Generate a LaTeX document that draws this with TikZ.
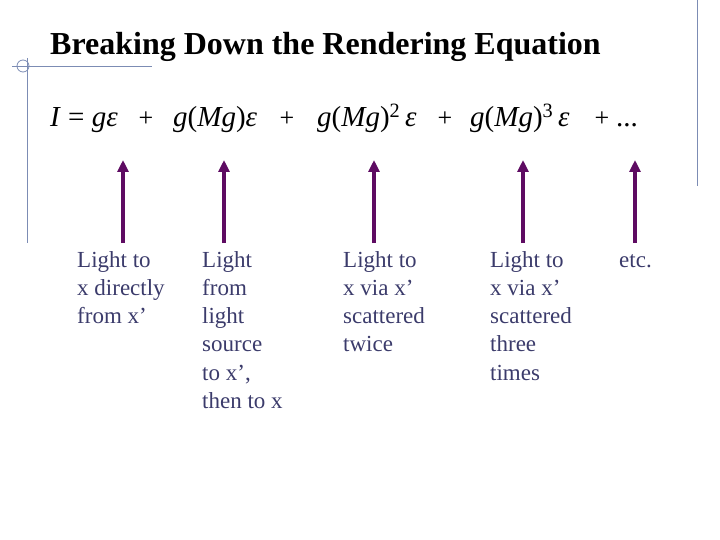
\documentclass[tikz,border=0pt]{standalone}
\usepackage{fontspec}
\setmainfont{Liberation Serif}
\usetikzlibrary{arrows.meta}
\definecolor{framecol}{HTML}{7C8CB4}
\definecolor{arrowcol}{HTML}{5E0B62}
\definecolor{labelcol}{HTML}{3B3B6B}
\newcommand{\lines}[1]{\begin{tabular}[t]{@{}l@{}}#1\end{tabular}}

\begin{document}
\begin{tikzpicture}[x=1pt,y=-1pt,
  term/.style={anchor=base west,inner sep=0pt,font=\fontsize{29}{34}\selectfont},
  plus/.style={anchor=base,inner sep=0pt,font=\fontsize{26}{34}\selectfont},
  lbl/.style={anchor=base west,inner sep=0pt,text=labelcol,font=\fontsize{23}{28.3}\selectfont},
  up/.style={arrowcol,line width=3.5pt,-{Triangle[length=12pt,width=11pt]}}]
\useasboundingbox (0,0) rectangle (720,540);
% slide frame
\draw[framecol,line width=1pt] (12,67) -- (152,67);
\draw[framecol,line width=1pt] (27,58) -- (27,243);
\draw[framecol,line width=0.8pt] (23,66) circle (6);
\draw[framecol,line width=1pt] (697,0) -- (697,186);
\node[anchor=base west,inner sep=0pt,font=\bfseries\fontsize{32}{38}\selectfont] (title) at (50,55) {Breaking Down the Rendering Equation};
% the equation
\node[term] (t0) at (50,127) {\textit{I} = \textit{gε}};
\node[term] (t1) at (173,127) {\textit{g}(\textit{Mg})\textit{ε}};
\node[term] (t2) at (317,127) {\textit{g}(\textit{Mg})\textsuperscript{2}\,\textit{ε}};
\node[term] (t3) at (470,127) {\textit{g}(\textit{Mg})\textsuperscript{3}\,\textit{ε}};
\node[term] (t4) at (616,127) {...};
\foreach \x/\n in {146/1,287/2,445/3,602/4}
  \node[plus] (p\n) at (\x,127) {+};
% arrows
\foreach \x/\n in {123/1,224/2,374/3,523/4,635/5} {
  \coordinate (b\n) at (\x,243);
  \coordinate (h\n) at (\x,160);
  \draw[up] (b\n) -- (h\n);
}
% labels
\node[lbl] (l1) at (77,267) {\lines{Light to\\x directly\\from x’}};
\node[lbl] (l2) at (202,267) {\lines{Light\\from\\light\\source\\to x’,\\then to x}};
\node[lbl] (l3) at (343,267) {\lines{Light to\\x via x’\\scattered\\twice}};
\node[lbl] (l4) at (490,267) {\lines{Light to\\x via x’\\scattered\\three\\times}};
\node[lbl] (l5) at (619,267) {\lines{etc.}};
\end{tikzpicture}
\end{document}
